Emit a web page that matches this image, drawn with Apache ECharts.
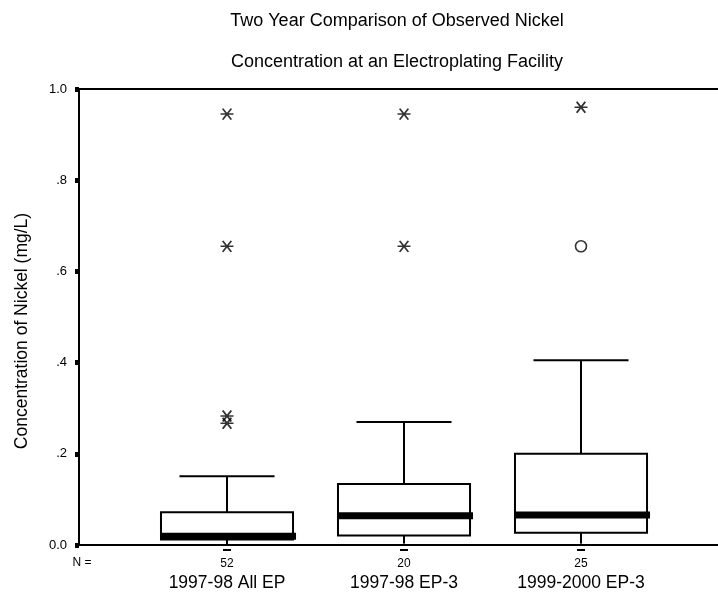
<!DOCTYPE html>
<html><head><meta charset="utf-8">
<script src="https://cdn.jsdelivr.net/npm/echarts@6/dist/echarts.min.js"></script>
<style>html,body{margin:0;padding:0;background:#fff}#c{width:718px;height:592px}</style>
</head><body><div id="c"></div>
<script>
const titleLines = ['Two Year Comparison of Observed Nickel', 'Concentration at an Electroplating Facility'];
const yAxisTitle = 'Concentration of Nickel (mg/L)';
const categories = ['1997-98 All EP', '1997-98 EP-3', '1999-2000 EP-3'];
const nCounts = [52, 20, 25];
const whiskerLow = [0.0, 0.003, 0.003];
const q1 = [0.012, 0.021, 0.027];
const median = [0.019, 0.064, 0.066];
const q3 = [0.072, 0.134, 0.200];
const whiskerHigh = [0.151, 0.270, 0.405];
const extremeCat = [1, 1, 1, 1, 2, 2, 3];
const extremeVal = [0.945, 0.655, 0.283, 0.267, 0.945, 0.655, 0.960];
const outlierCat = [3];
const outlierVal = [0.655];
const catPositions = [1, 2, 3];
const yTicks = [0, 0.2, 0.4, 0.6, 0.8, 1.0];
const yTickLabels = ['0.0', '.2', '.4', '.6', '.8', '1.0'];

const FONT = '"Liberation Sans", Arial, sans-serif';
const boxWidth = 0.746, capWidth = 0.537;
const X_MIN = 0.1638, X_MAX = 3.774;

const boxData = categories.map((c, i) => [catPositions[i], whiskerLow[i], q1[i], median[i], q3[i], whiskerHigh[i]]);
const extremeData = extremeCat.map((c, i) => [c, extremeVal[i]]);
const outlierData = outlierCat.map((c, i) => [c, outlierVal[i]]);

const lineOnlyAxis = (position, offset) => ({
  type: 'value', min: X_MIN, max: X_MAX, position: position, offset: offset,
  splitLine: {show: false}, axisTick: {show: false}, axisLabel: {show: false},
  axisLine: {show: true, onZero: false, lineStyle: {color: '#000', width: 2}}
});

const chart = echarts.init(document.getElementById('c'), null, {renderer: 'canvas'});
chart.setOption({
  animation: false,
  backgroundColor: '#fff',
  grid: {left: 79, right: 0, top: 89, bottom: 47, show: false, containLabel: false, outerBoundsMode: 'none'},
  xAxis: [
    {
      type: 'value', min: X_MIN, max: X_MAX, position: 'bottom', offset: 4,
      splitLine: {show: false},
      axisLine: {show: false, onZero: false},
      axisTick: {show: true, customValues: catPositions, length: 2, lineStyle: {color: '#000', width: 8}},
      axisLabel: {
        customValues: catPositions, margin: 5, color: '#000', fontFamily: FONT,
        formatter: v => { const i = catPositions.indexOf(Math.round(v)); return '{n|' + nCounts[i] + '}\n{c|' + categories[i] + '}'; },
        rich: {
          n: {fontFamily: FONT, fontSize: 12, lineHeight: 20, color: '#000'},
          c: {fontFamily: FONT, fontSize: 17.5, lineHeight: 19, color: '#000'}
        }
      }
    },
    lineOnlyAxis('bottom', 0),
    lineOnlyAxis('top', 0)
  ],
  yAxis: {
    type: 'value', min: 0, max: 1, interval: 0.2,
    splitLine: {show: false},
    axisLine: {show: true, onZero: false, lineStyle: {color: '#000', width: 2}},
    axisTick: {show: true, customValues: yTicks, length: 4, lineStyle: {color: '#000', width: 5}},
    axisLabel: {
      customValues: yTicks, margin: 12, color: '#000', fontFamily: FONT, fontSize: 13,
      formatter: v => { const i = yTicks.findIndex(t => Math.abs(t - v) < 1e-9); return i >= 0 ? yTickLabels[i] : ''; }
    }
  },
  graphic: [
    {type: 'text', x: 397, y: 21,
     style: {text: titleLines[0], fontFamily: FONT, fontSize: 18, fill: '#000', align: 'center', verticalAlign: 'middle'}},
    {type: 'text', x: 397, y: 62,
     style: {text: titleLines[1], fontFamily: FONT, fontSize: 18, fill: '#000', align: 'center', verticalAlign: 'middle'}},
    {type: 'text', x: 22, y: 331, rotation: Math.PI / 2,
     style: {text: yAxisTitle, fontFamily: FONT, fontSize: 17.5, fill: '#000', align: 'center', verticalAlign: 'middle'}},
    {type: 'text', x: 82, y: 563,
     style: {text: 'N =', fontFamily: FONT, fontSize: 12, fill: '#000', align: 'center', verticalAlign: 'middle'}}
  ],
  series: [
    {
      type: 'custom',
      data: boxData,
      encode: {x: 0, y: [1, 2, 3, 4, 5]},
      renderItem: (params, api) => {
        const x = api.value(0);
        const lo = api.coord([x, api.value(1)]);
        const b = api.coord([x, api.value(2)]);
        const m = api.coord([x, api.value(3)]);
        const t = api.coord([x, api.value(4)]);
        const hi = api.coord([x, api.value(5)]);
        const bw = api.size([boxWidth, 0])[0];
        const cw = api.size([capWidth, 0])[0];
        const cx = lo[0];
        const st = {stroke: '#000', lineWidth: 2, fill: null};
        return {type: 'group', children: [
          {type: 'line', shape: {x1: cx, y1: hi[1], x2: cx, y2: t[1]}, style: st},
          {type: 'line', shape: {x1: cx - cw / 2, y1: hi[1], x2: cx + cw / 2, y2: hi[1]}, style: st},
          {type: 'line', shape: {x1: cx, y1: b[1], x2: cx, y2: lo[1]}, style: st},
          {type: 'rect', shape: {x: cx - bw / 2, y: t[1], width: bw, height: b[1] - t[1]}, style: {stroke: '#000', lineWidth: 2, fill: '#fff'}},
          {type: 'line', shape: {x1: cx - bw / 2, y1: m[1], x2: cx + bw / 2 + 3, y2: m[1]}, style: {stroke: '#000', lineWidth: 7}}
        ]};
      }
    },
    {
      type: 'scatter', data: extremeData,
      symbol: 'path://M0,5L12,5M2,0L10,10M10,0L2,10', symbolSize: [13, 11],
      itemStyle: {color: '#000', borderColor: '#000', borderWidth: 1.7}
    },
    {
      type: 'scatter', data: outlierData,
      symbol: 'circle', symbolSize: 11,
      itemStyle: {color: '#fff', borderColor: '#000', borderWidth: 1.6}
    }
  ]
});
</script>
</body></html>
